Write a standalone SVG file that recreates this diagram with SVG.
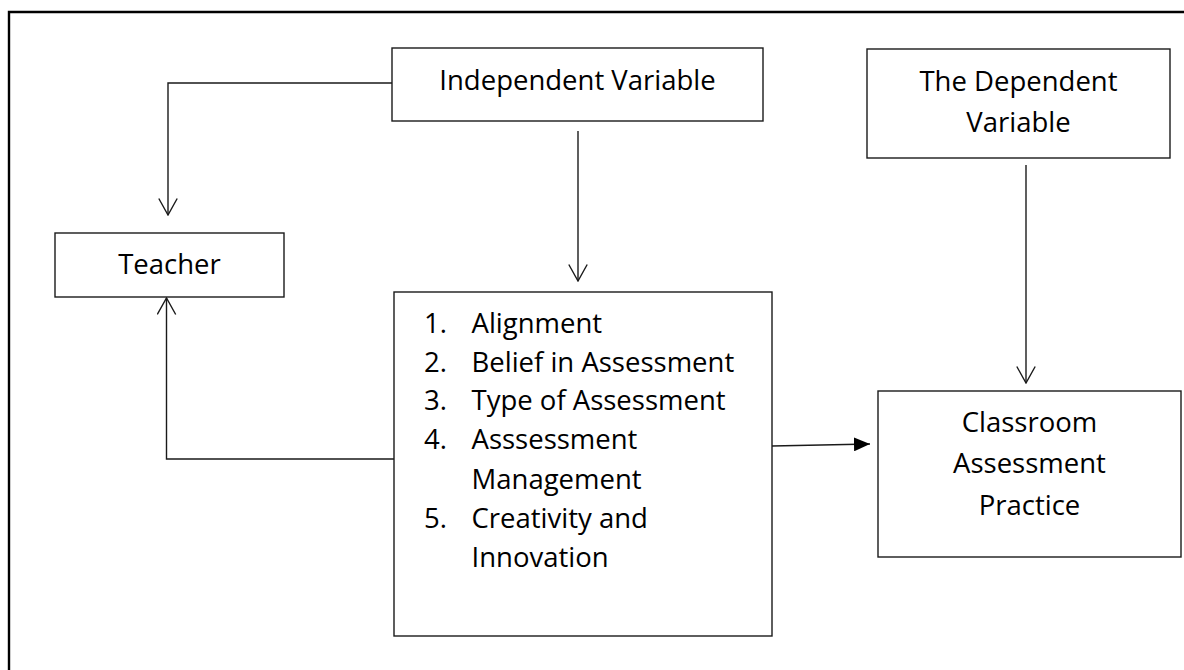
<svg xmlns="http://www.w3.org/2000/svg" width="1184" height="670" viewBox="0 0 1184 670">
<defs>
<style>
.box{fill:#fff;stroke:#1a1a1a;stroke-width:1.4}
.t{font-family:"Open Sans","Noto Sans",sans-serif;font-size:27.5px;fill:#000}
.c{text-anchor:middle}
.con{fill:none;stroke:#1a1a1a;stroke-width:1.4}
</style>
<marker id="open" viewBox="0 0 18 20" refX="17" refY="10" markerWidth="18" markerHeight="20" markerUnits="userSpaceOnUse" orient="auto">
<path d="M0.5,0.8 L17,10 L0.5,19.2" fill="none" stroke="#1a1a1a" stroke-width="1.4"/>
</marker>
<marker id="solid" viewBox="0 0 16 14" refX="16" refY="7" markerWidth="16" markerHeight="14" markerUnits="userSpaceOnUse" orient="auto">
<path d="M0,0 L16,7 L0,14 Z" fill="#000"/>
</marker>
</defs>
<rect width="1184" height="670" fill="#fff"/>
<g id="frame">
<path d="M9,670 L9,12 L1184,12" fill="none" stroke="#000" stroke-width="2.4"/>
</g>
<g id="connectors">
<path class="con" d="M392,83 L168,83 L168,215" marker-end="url(#open)"/>
<path class="con" d="M578,131 L578,281" marker-end="url(#open)"/>
<path class="con" d="M1026,165 L1026,383" marker-end="url(#open)"/>
<path class="con" d="M394,459 L166.5,459 L166.5,298" marker-end="url(#open)"/>
<path class="con" d="M772,446 L870,444" marker-end="url(#solid)"/>
</g>
<g id="independent">
<rect class="box" x="392" y="48" width="371" height="73"/>
<text class="t c" x="577.5" y="90">Independent Variable</text>
</g>
<g id="dependent">
<rect class="box" x="867" y="49" width="303" height="109"/>
<text class="t c" x="1018.5" y="91">The Dependent</text>
<text class="t c" x="1018.5" y="132">Variable</text>
</g>
<g id="teacher">
<rect class="box" x="55" y="233" width="229" height="64"/>
<text class="t c" x="169.5" y="274">Teacher</text>
</g>
<g id="factors">
<rect class="box" x="394" y="292" width="378" height="344"/>
<text class="t" x="424" y="333">1.</text><text class="t" x="471.5" y="333">Alignment</text>
<text class="t" x="424" y="372">2.</text><text class="t" x="471.5" y="372">Belief in Assessment</text>
<text class="t" x="424" y="410">3.</text><text class="t" x="471.5" y="410">Type of Assessment</text>
<text class="t" x="424" y="449">4.</text><text class="t" x="471.5" y="449">Asssessment</text>
<text class="t" x="471.5" y="489">Management</text>
<text class="t" x="424" y="528">5.</text><text class="t" x="471.5" y="528">Creativity and</text>
<text class="t" x="471.5" y="567">Innovation</text>
</g>
<g id="practice">
<rect class="box" x="878" y="391" width="303" height="166"/>
<text class="t c" x="1029.5" y="432">Classroom</text>
<text class="t c" x="1029.5" y="473">Assessment</text>
<text class="t c" x="1029.5" y="515">Practice</text>
</g>
</svg>
